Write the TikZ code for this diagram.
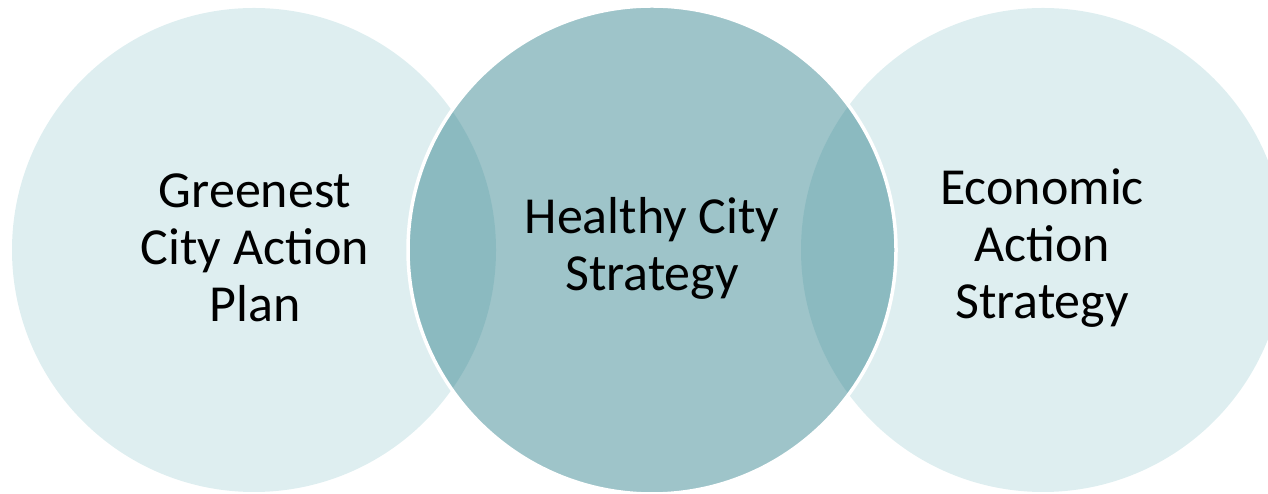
\documentclass[tikz,border=0pt]{standalone}
\usepackage{fontspec}
\setmainfont{Carlito}
\definecolor{paleteal}{RGB}{222,238,240}
\definecolor{deepteal}{RGB}{39,124,135}
\begin{document}
\begin{tikzpicture}[
    x=1pt, y=1pt,
    font=\fontsize{52}{57}\selectfont,
    side/.style={fill=paleteal},
    centre/.style={fill=deepteal, fill opacity=0.45, draw=white, line width=3.5pt},
    label/.style={align=center, text opacity=1}
]
    \useasboundingbox (0,0) rectangle (1268,494);
    \clip (0,0) rectangle (1268,494);

    % Circulos laterales
    \foreach \x in {254,1043} {
        \fill[side] (\x,244) circle (242);
    }

    % Circulo central
    \draw[centre] (652,244) circle (244);

    % Textos
    \node[label] (green) at (255,246) {Greenest\\City Action\\Plan};
    \node[label] (health) at (652,246) {Healthy City\\Strategy};
    \node[label] (econ) at (1042,246) {Economic\\Action\\Strategy};
\end{tikzpicture}
\end{document}
